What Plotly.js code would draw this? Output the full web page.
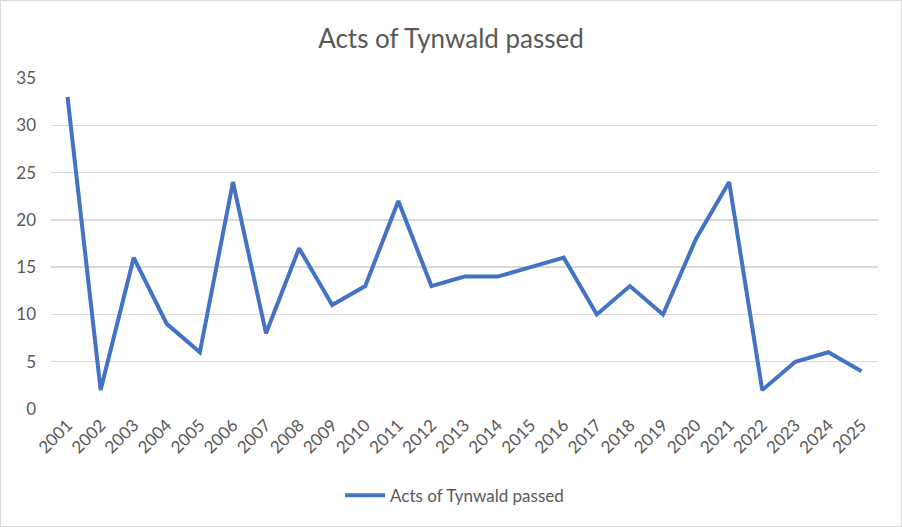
<!DOCTYPE html>
<html>
<head>
<meta charset="utf-8">
<script src="https://cdn.plot.ly/plotly-3.0.1.min.js"></script>
<style>
  html, body { margin: 0; padding: 0; background: #fff; }
  #wrap { width: 902px; height: 527px; box-sizing: border-box; border: 1px solid #d9d9d9; }
  #chart { width: 900px; height: 525px; }
</style>
</head>
<body>
<div id="wrap"><div id="chart"></div></div>
<script>
const years = ["2001","2002","2003","2004","2005","2006","2007","2008","2009","2010","2011","2012","2013","2014","2015","2016","2017","2018","2019","2020","2021","2022","2023","2024","2025"];
const actsPassed = [33, 2, 16, 9, 6, 24, 8, 17, 11, 13, 22, 13, 14, 14, 15, 16, 10, 13, 10, 18, 24, 2, 5, 6, 4];
const yTicks = [0, 5, 10, 15, 20, 25, 30, 35];
const seriesName = "Acts of Tynwald passed";
const chartTitle = "Acts of Tynwald passed";

const FONT = "Lato, 'Open Sans', sans-serif";

Plotly.newPlot("chart", [{
  type: "scatter",
  mode: "lines",
  x: years,
  y: actsPassed,
  name: seriesName,
  line: { color: "#4472C4", width: 4, shape: "linear" },
  hoverinfo: "x+y"
}], {
  width: 900,
  height: 525,
  margin: { l: 50, r: 23, t: 77, b: 117 },
  paper_bgcolor: "#ffffff",
  plot_bgcolor: "#ffffff",
  font: { family: FONT, color: "#595959", size: 17 },
  title: {
    text: chartTitle,
    font: { family: FONT, size: 26, color: "#595959" },
    x: 0.5, xanchor: "center",
    y: 0.928, yanchor: "middle"
  },
  xaxis: {
    type: "category",
    range: [-0.5, years.length - 0.5],
    tickangle: -45,
    showgrid: false,
    zeroline: false,
    showline: false,
    ticks: "",
    tickfont: { family: FONT, size: 17, color: "#595959" },
    ticklabelstandoff: 2
  },
  yaxis: {
    range: [0, 35],
    tickvals: yTicks,
    showgrid: true,
    gridcolor: "#d9d9d9",
    gridwidth: 1.3,
    zeroline: false,
    showline: false,
    ticks: "",
    ticklabelstandoff: 14,
    tickfont: { family: FONT, size: 17, color: "#595959" }
  },
  showlegend: true,
  legend: {
    orientation: "h",
    x: 0.488, xanchor: "center",
    y: -0.262, yanchor: "middle",
    font: { family: FONT, size: 17, color: "#595959" },
    itemwidth: 40
  }
}, { displayModeBar: false, staticPlot: true });
</script>
</body>
</html>
